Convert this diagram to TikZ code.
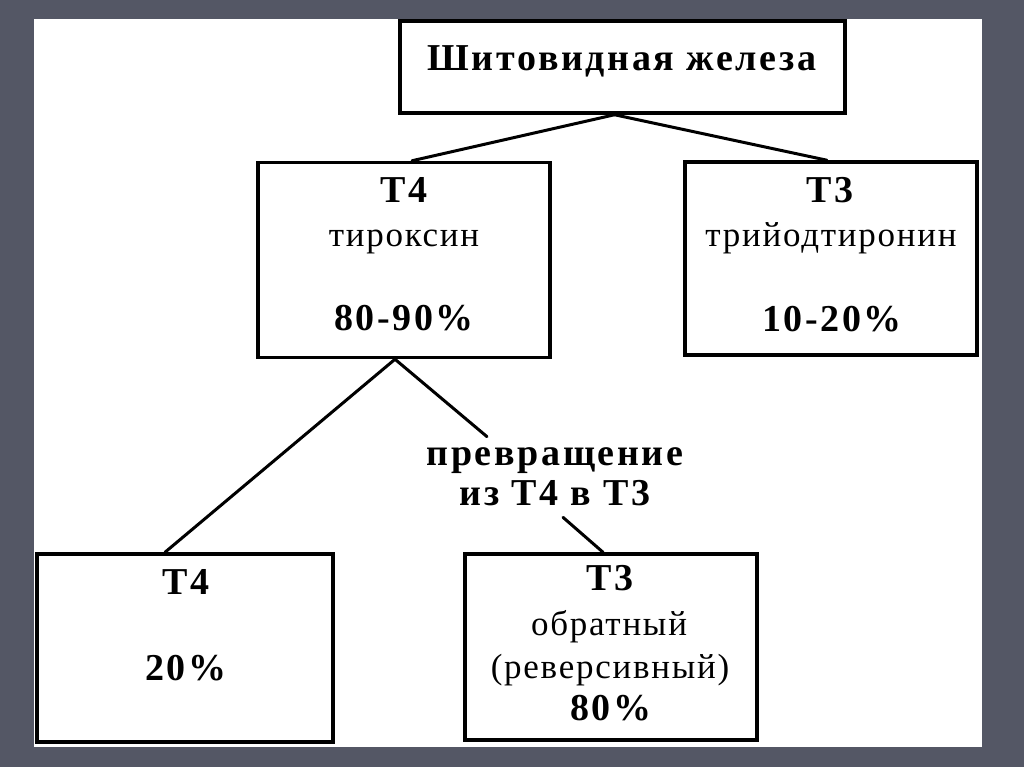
\documentclass[tikz,border=0pt]{standalone}
\usepackage{fontspec}
\setmainfont{Liberation Serif}
\newfontfamily\bfam[LetterSpace=7]{Liberation Serif}
\newfontfamily\rfam[LetterSpace=5]{Liberation Serif}
\definecolor{slidebg}{RGB}{84,87,101}
\begin{document}
\begin{tikzpicture}[x=1pt,y=-1pt,
  box/.style={draw=black, line width=3.5pt, fill=white, inner sep=0pt},
  btxt/.style={anchor=base, inner sep=0pt, font=\bfam\bfseries\fontsize{38}{40}\selectfont},
  rtxt/.style={anchor=base, inner sep=0pt, font=\rfam\fontsize{35}{40}\selectfont},
  conn/.style={draw=black, line width=3pt, line cap=round}]
\useasboundingbox (0,0) rectangle (1024,767);
\fill[slidebg] (0,0) rectangle (1024,767);
\fill[white] (34,19) rectangle (982,747);

% boxes
\node[box, minimum width=445pt, minimum height=92pt]  (top) at (622.5,67) {};
\node[box, minimum width=292pt, minimum height=195pt] (t4)  at (404,260) {};
\node[box, minimum width=292pt, minimum height=193pt] (t3)  at (831,258.5) {};
\node[box, minimum width=296pt, minimum height=188pt] (bl)  at (185,648) {};
\node[box, minimum width=292pt, minimum height=186pt] (br)  at (611,647) {};

% texts
\node[btxt] (toptxt) at (622,71) {Шитовидная железа};
\node[btxt] (t4a) at (404,203) {T4};
\node[rtxt] (t4b) at (404,246) {тироксин};
\node[btxt] (t4c) at (404,330) {80-90\%};
\node[btxt] (t3a) at (830,203) {T3};
\node[rtxt] (t3b) at (831,247) {трийодтиронин};
\node[btxt] (t3c) at (832,331) {10-20\%};
\node[btxt] (bla) at (186,594) {T4};
\node[btxt] (blb) at (186,680) {20\%};
\node[btxt] (bra) at (610,590) {T3};
\node[rtxt] (brb) at (609,635) {обратный};
\node[rtxt] (brc) at (610,678) {(реверсивный)};
\node[btxt] (brd) at (611,720) {80\%};
\node[inner xsep=4pt, inner ysep=11pt, align=center,
      font=\bfam\bfseries\fontsize{38}{40}\selectfont] (conv) at (555,477)
      {превращение\\из T4 в T3};

% connectors
\draw[conn] ([xshift=-8pt]top.south) -- ([xshift=8pt]t4.north);
\draw[conn] ([xshift=-8pt]top.south) -- ([xshift=-4pt]t3.north);
\draw[conn] ([xshift=-9pt]t4.south) -- ([xshift=-68pt]conv.north);
\draw[conn] ([xshift=-9pt]t4.south) -- ([xshift=-20pt]bl.north);
\draw[conn] ([xshift=8pt]conv.south) -- ([xshift=-8pt]br.north);
\end{tikzpicture}
\end{document}
